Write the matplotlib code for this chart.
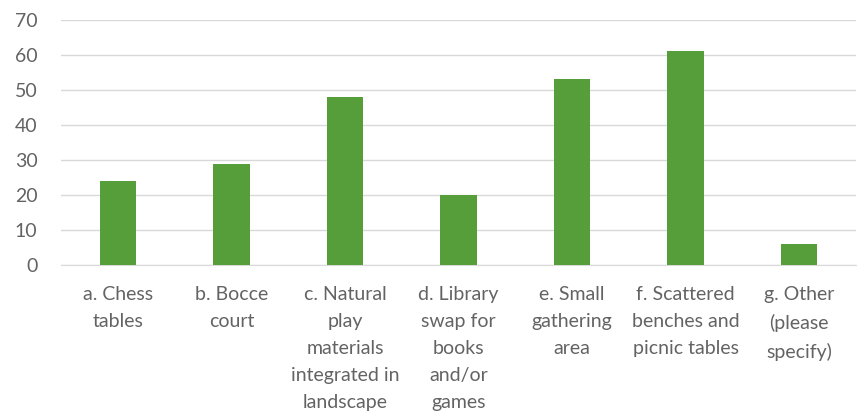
import numpy as np
import matplotlib.pyplot as plt

categories = [
    "a. Chess\ntables",
    "b. Bocce\ncourt",
    "c. Natural\nplay\nmaterials\nintegrated in\nlandscape",
    "d. Library\nswap for\nbooks\nand/or\ngames",
    "e. Small\ngathering\narea",
    "f. Scattered\nbenches and\npicnic tables",
    "g. Other\n(please\nspecify)",
]
counts = [24, 29, 48, 20, 53, 61, 6]
yticks = [0, 10, 20, 30, 40, 50, 60, 70]

plt.rcParams["font.family"] = ["Lato", "DejaVu Sans"]

fig = plt.figure(figsize=(8.61, 4.13), dpi=100)
ax = fig.add_axes([61 / 861, 1 - 265 / 413, (856 - 61) / 861, (265 - 20) / 413])

x = np.arange(len(categories))
ax.bar(x, counts, width=0.32, color="#559E3A", zorder=3)

ax.set_xlim(-0.5, len(categories) - 0.5)
ax.set_ylim(0, 70)
ax.set_yticks(yticks)
ax.set_xticks(x)
ax.set_xticklabels(categories, linespacing=1.72)
ax.grid(axis="y", color="#D9D9D9", linewidth=1, zorder=0)
for s in ["top", "right", "left"]:
    ax.spines[s].set_visible(False)
ax.spines["bottom"].set_color("#D9D9D9")
ax.tick_params(axis="both", length=0, labelsize=14, labelcolor="#636363")
ax.tick_params(axis="x", pad=15)
ax.tick_params(axis="y", pad=17)

fig.savefig("out.png", dpi=100)
